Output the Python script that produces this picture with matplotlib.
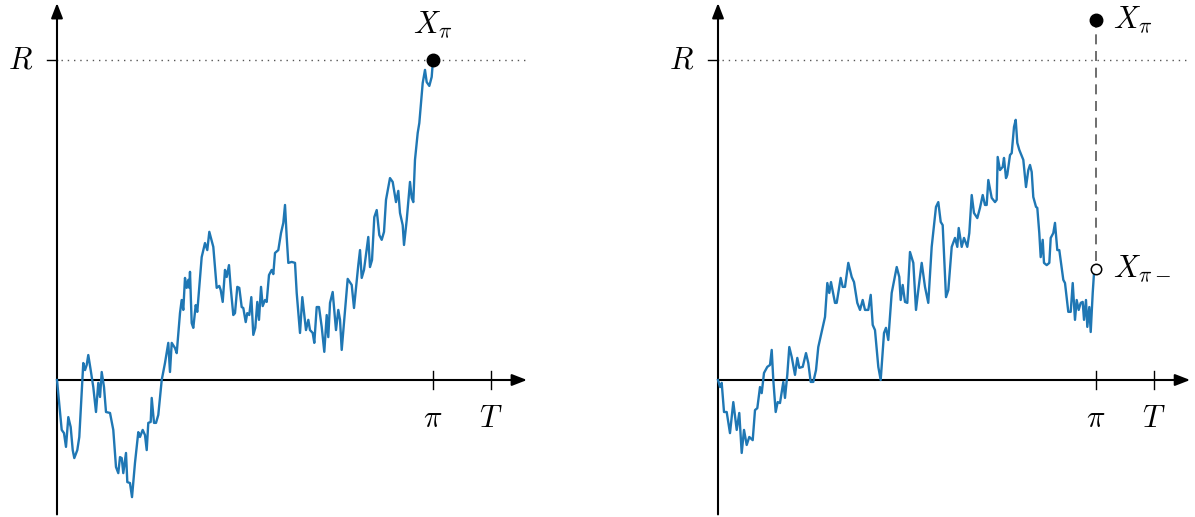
import matplotlib
matplotlib.use("Agg")
import matplotlib.pyplot as plt

plt.rcParams['mathtext.fontset'] = 'cm'

# time in units of pi (pi = 1), level in units of R (R = 1)
PI = 1.0
T_END = 1.154
R = 1.0

# left panel: path hits R exactly at pi
left_t = [0.0, 0.0125, 0.0186, 0.0239, 0.0301, 0.0364, 0.0418, 0.0460, 0.0540, 0.0593,
          0.0699, 0.0745, 0.0790, 0.0832, 0.0896, 0.0965, 0.1037, 0.1098, 0.1144, 0.1189,
          0.1250, 0.1303, 0.1410, 0.1497, 0.1569, 0.1630, 0.1676, 0.1721, 0.1763, 0.1835,
          0.1870, 0.1941, 0.1995, 0.2074, 0.2162, 0.2207, 0.2279, 0.2340, 0.2386, 0.2428,
          0.2492, 0.2519, 0.2580, 0.2633, 0.2694, 0.2785, 0.2872, 0.2960, 0.3005, 0.3051,
          0.3138, 0.3184, 0.3271, 0.3316, 0.3359, 0.3404, 0.3449, 0.3492, 0.3519, 0.3537,
          0.3582, 0.3625, 0.3689, 0.3731, 0.3848, 0.3936, 0.3997, 0.4051, 0.4157, 0.4247,
          0.4316, 0.4354, 0.4407, 0.4468, 0.4513, 0.4574, 0.4620, 0.4689, 0.4734, 0.4795,
          0.4848, 0.4912, 0.4955, 0.5019, 0.5061, 0.5114, 0.5168, 0.5221, 0.5274, 0.5327,
          0.5372, 0.5426, 0.5471, 0.5532, 0.5577, 0.5638, 0.5710, 0.5753, 0.5798, 0.5886,
          0.5957, 0.6019, 0.6064, 0.6109, 0.6152, 0.6242, 0.6330, 0.6375, 0.6463, 0.6524,
          0.6622, 0.6684, 0.6729, 0.6801, 0.6843, 0.6907, 0.6968, 0.7040, 0.7109, 0.7173,
          0.7215, 0.7261, 0.7332, 0.7420, 0.7481, 0.7527, 0.7572, 0.7731, 0.7838, 0.7899,
          0.8013, 0.8059, 0.8104, 0.8165, 0.8279, 0.8324, 0.8378, 0.8439, 0.8503, 0.8572,
          0.8636, 0.8697, 0.8750, 0.8856, 0.8928, 0.9016, 0.9077, 0.9122, 0.9194, 0.9229,
          0.9301, 0.9388, 0.9434, 0.9476, 0.9521, 0.9593, 0.9636, 0.9726, 0.9787, 0.9832,
          0.9902, 0.9965, 1.0]
left_x = [0.0, -0.156, -0.166, -0.209, -0.116, -0.147, -0.219, -0.244, -0.219, -0.178,
          0.053, 0.031, 0.047, 0.078, 0.031, -0.022, -0.100, -0.009, -0.053, 0.025,
          -0.022, -0.100, -0.103, -0.156, -0.272, -0.291, -0.241, -0.244, -0.291, -0.228,
          -0.319, -0.322, -0.366, -0.259, -0.163, -0.178, -0.156, -0.172, -0.219, -0.134,
          -0.131, -0.056, -0.134, -0.134, -0.109, 0.000, 0.053, 0.116, 0.025, 0.116,
          0.100, 0.084, 0.209, 0.250, 0.219, 0.319, 0.288, 0.313, 0.288, 0.338,
          0.178, 0.163, 0.234, 0.213, 0.384, 0.428, 0.406, 0.463, 0.416, 0.288,
          0.294, 0.281, 0.244, 0.344, 0.322, 0.359, 0.288, 0.203, 0.209, 0.291,
          0.288, 0.228, 0.225, 0.181, 0.209, 0.203, 0.259, 0.141, 0.163, 0.244,
          0.188, 0.291, 0.231, 0.250, 0.244, 0.328, 0.344, 0.331, 0.397, 0.406,
          0.459, 0.491, 0.547, 0.447, 0.366, 0.369, 0.366, 0.272, 0.147, 0.259,
          0.156, 0.188, 0.156, 0.147, 0.116, 0.228, 0.228, 0.166, 0.088, 0.203,
          0.134, 0.241, 0.275, 0.156, 0.219, 0.188, 0.094, 0.316, 0.297, 0.225,
          0.359, 0.406, 0.319, 0.344, 0.447, 0.353, 0.375, 0.509, 0.531, 0.453,
          0.438, 0.463, 0.563, 0.631, 0.619, 0.556, 0.591, 0.522, 0.484, 0.422,
          0.500, 0.619, 0.569, 0.556, 0.688, 0.772, 0.803, 0.928, 0.969, 0.931,
          0.919, 0.947, 1.0]

# right panel: path jumps over R at pi
right_t = [0.0, 0.0053, 0.0098, 0.0159, 0.0230, 0.0317, 0.0405, 0.0495, 0.0563, 0.0627,
           0.0688, 0.0759, 0.0828, 0.0918, 0.0979, 0.1040, 0.1111, 0.1156, 0.1217, 0.1304,
           0.1376, 0.1421, 0.1463, 0.1526, 0.1579, 0.1640, 0.1728, 0.1772, 0.1833, 0.1886,
           0.1950, 0.2037, 0.2098, 0.2151, 0.2241, 0.2328, 0.2389, 0.2452, 0.2521, 0.2593,
           0.2653, 0.2743, 0.2831, 0.2892, 0.2944, 0.2989, 0.3095, 0.3140, 0.3246, 0.3299,
           0.3360, 0.3447, 0.3537, 0.3598, 0.3685, 0.3757, 0.3828, 0.3889, 0.3976, 0.4040,
           0.4093, 0.4153, 0.4241, 0.4304, 0.4392, 0.4444, 0.4505, 0.4595, 0.4728, 0.4796,
           0.4833, 0.4886, 0.4947, 0.5008, 0.5079, 0.5167, 0.5238, 0.5299, 0.5389, 0.5476,
           0.5563, 0.5653, 0.5767, 0.5828, 0.5892, 0.5944, 0.6032, 0.6093, 0.6183, 0.6270,
           0.6331, 0.6368, 0.6447, 0.6508, 0.6595, 0.6648, 0.6712, 0.6772, 0.6860, 0.6931,
           0.7003, 0.7063, 0.7108, 0.7151, 0.7241, 0.7328, 0.7373, 0.7399, 0.7460, 0.7532,
           0.7566, 0.7619, 0.7653, 0.7725, 0.7770, 0.7831, 0.7876, 0.7918, 0.7971, 0.8077,
           0.8148, 0.8209, 0.8254, 0.8299, 0.8341, 0.8413, 0.8447, 0.8500, 0.8537, 0.8590,
           0.8624, 0.8696, 0.8765, 0.8802, 0.8870, 0.8915, 0.8976, 0.9029, 0.9135, 0.9180,
           0.9267, 0.9331, 0.9384, 0.9444, 0.9489, 0.9542, 0.9595, 0.9648, 0.9683, 0.9735,
           0.9770, 0.9823, 0.9860, 0.9913, 0.9947, 0.9974]
right_x = [0.0, -0.022, -0.009, -0.100, -0.100, -0.166, -0.069, -0.156, -0.103, -0.228,
           -0.156, -0.203, -0.178, -0.188, -0.094, -0.088, -0.022, -0.041, 0.022, 0.041,
           0.047, 0.094, 0.000, -0.100, -0.069, -0.072, -0.006, -0.056, 0.016, 0.103,
           0.072, 0.016, 0.069, 0.038, 0.041, 0.084, 0.053, -0.006, -0.006, 0.031,
           0.103, 0.150, 0.197, 0.303, 0.272, 0.306, 0.241, 0.241, 0.319, 0.291,
           0.291, 0.366, 0.322, 0.306, 0.241, 0.219, 0.250, 0.219, 0.219, 0.266,
           0.172, 0.156, 0.041, 0.000, 0.147, 0.163, 0.125, 0.272, 0.353, 0.322,
           0.250, 0.297, 0.244, 0.241, 0.400, 0.366, 0.219, 0.281, 0.366, 0.291,
           0.241, 0.416, 0.541, 0.556, 0.494, 0.484, 0.259, 0.281, 0.416, 0.444,
           0.416, 0.475, 0.416, 0.444, 0.416, 0.459, 0.578, 0.522, 0.506, 0.538,
           0.578, 0.547, 0.547, 0.625, 0.569, 0.556, 0.563, 0.697, 0.656, 0.666,
           0.694, 0.631, 0.641, 0.703, 0.709, 0.791, 0.813, 0.741, 0.719, 0.688,
           0.603, 0.656, 0.672, 0.650, 0.572, 0.541, 0.538, 0.459, 0.384, 0.438,
           0.366, 0.359, 0.366, 0.444, 0.459, 0.491, 0.406, 0.406, 0.313, 0.303,
           0.213, 0.213, 0.303, 0.188, 0.250, 0.219, 0.241, 0.244, 0.188, 0.250,
           0.166, 0.228, 0.150, 0.272, 0.334, 0.344]
right_x_pre = 0.347   # X_{pi-}
right_x_jump = 1.125  # X_pi

PATH_COLOR = '#1f77b4'
FS = 22


def draw_frame(ax, x_end):
    # axes with arrow heads
    ax.annotate('', xy=(x_end, 0), xytext=(0, 0),
                arrowprops=dict(arrowstyle='-|>,head_length=0.9,head_width=0.35',
                                color='k', lw=1.5, shrinkA=0, shrinkB=0))
    ax.annotate('', xy=(0, 1.178), xytext=(0, -0.42),
                arrowprops=dict(arrowstyle='-|>,head_length=0.9,head_width=0.35',
                                color='k', lw=1.5, shrinkA=0, shrinkB=0))
    # level R
    ax.plot([0.01, x_end], [R, R], color='#555555', lw=1, linestyle=(0, (1, 3.5)))
    ax.plot([-0.027, 0], [R, R], color='k', lw=1)
    ax.text(-0.097, R, '$R$', fontsize=FS, ha='center', va='center')
    # ticks on time axis
    for t, lab in [(PI, r'$\pi$'), (T_END, '$T$')]:
        ax.plot([t, t], [-0.028, 0.028], color='k', lw=1)
        ax.text(t, -0.12, lab, fontsize=FS, ha='center', va='center')


fig = plt.figure(figsize=(11.95, 5.17), dpi=100)

ax1 = fig.add_axes([40 / 1195, 0, 500 / 1195, 1])
ax1.set_xlim(-0.04521, 1.28457)
ax1.set_ylim(-0.428125, 1.1875)
ax1.axis('off')
draw_frame(ax1, 1.25)
ax1.plot(left_t, left_x, color=PATH_COLOR, lw=1.7, zorder=3)
ax1.plot([PI], [left_x[-1]], 'o', color='k', ms=9, zorder=4)
ax1.text(PI, 1.11, r'$X_\pi$', fontsize=FS, ha='center', va='center')

ax2 = fig.add_axes([700 / 1195, 0, 495 / 1195, 1])
ax2.set_xlim(-0.047619, 1.261905)
ax2.set_ylim(-0.428125, 1.1875)
ax2.axis('off')
draw_frame(ax2, 1.249)
ax2.plot(right_t, right_x, color=PATH_COLOR, lw=1.7, zorder=3)
ax2.plot([PI, PI], [right_x_pre + 0.025, right_x_jump], color='#555555', lw=1.2,
         linestyle=(0, (6, 4)), zorder=2)
ax2.plot([PI], [right_x_jump], 'o', color='k', ms=9, zorder=4)
ax2.plot([PI], [right_x_pre], 'o', mfc='white', mec='k', mew=1.1, ms=7.5, zorder=4)
ax2.text(1.045, right_x_jump, r'$X_\pi$', fontsize=FS, ha='left', va='center')
ax2.text(1.045, right_x_pre, r'$X_{\pi-}$', fontsize=FS, ha='left', va='center')

fig.savefig('out.png', dpi=100)
